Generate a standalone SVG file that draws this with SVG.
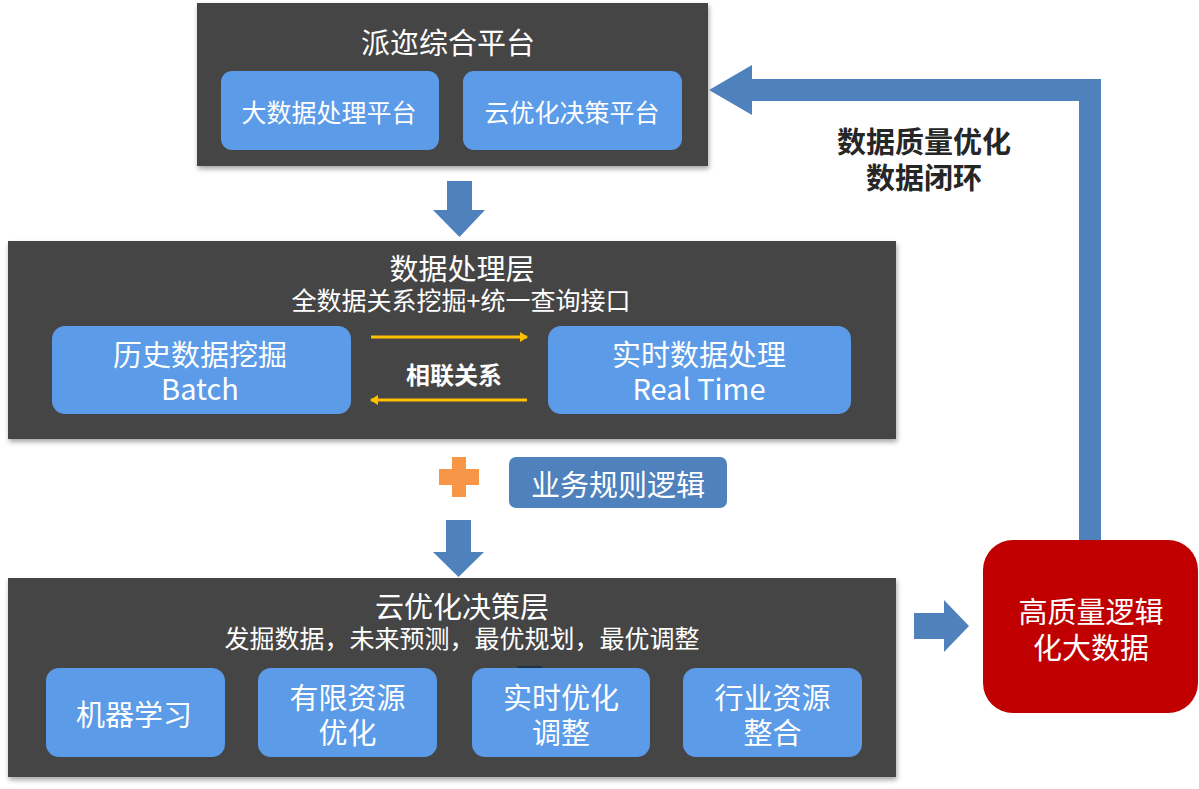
<svg xmlns="http://www.w3.org/2000/svg" width="1199" height="789" viewBox="0 0 1199 789">
<defs>
<filter id="sh" x="-5%" y="-5%" width="110%" height="115%">
<feDropShadow dx="1" dy="3" stdDeviation="2.5" flood-color="#000" flood-opacity="0.35"/>
</filter>
<marker id="ya" markerWidth="8" markerHeight="10" refX="7" refY="5" orient="auto" markerUnits="userSpaceOnUse">
<path d="M0,0 L8,5 L0,10 Z" fill="#FFC000"/>
</marker>
</defs>
<style>
.panel{fill:#444444;filter:url(#sh)}
.box{fill:#5B9BE8}
.t{font-family:"Microsoft YaHei","Noto Sans CJK SC",sans-serif;fill:#fff;text-anchor:middle;dominant-baseline:central}
.big{font-size:29px}
.sub{font-size:25px}
.arrow{fill:#4F81BD}
.bold{font-weight:bold}
</style>
<rect width="1199" height="789" fill="#fff"/>

<g id="top-platform">
<rect class="panel" x="197" y="3" width="511" height="163"/>
<text class="t big" x="448" y="41">派迩综合平台</text>
<g id="big-data-platform">
<rect class="box" x="221" y="71" width="218" height="79" rx="11"/>
<text class="t sub" x="329" y="111">大数据处理平台</text>
</g>
<g id="cloud-platform">
<rect class="box" x="463" y="71" width="219" height="79" rx="11"/>
<text class="t sub" x="572" y="111">云优化决策平台</text>
</g>
</g>

<g id="data-layer">
<rect class="panel" x="8" y="241" width="888" height="198"/>
<text class="t big" x="462" y="267">数据处理层</text>
<text class="t sub" x="461" y="299">全数据关系挖掘+统一查询接口</text>
<g id="batch">
<rect class="box" x="52" y="326" width="299" height="88" rx="13"/>
<text class="t big" x="200" y="353">历史数据挖掘</text>
<text class="t big" x="200" y="387">Batch</text>
</g>
<g id="realtime">
<rect class="box" x="548" y="326" width="303" height="88" rx="13"/>
<text class="t big" x="699" y="353">实时数据处理</text>
<text class="t big" x="699" y="387">Real Time</text>
</g>
<text class="t bold" x="454" y="373" font-size="24">相联关系</text>
</g>

<g id="plus">
<path d="M452,457 H466 V469 H479 V485 H466 V497 H452 V485 H439 V469 H452 Z" fill="#F79646"/>
</g>
<g id="business-rules">
<rect x="509" y="457" width="218" height="51" rx="7" fill="#4F81BD"/>
<text class="t big" x="618" y="483">业务规则逻辑</text>
</g>

<g id="decision-layer">
<rect class="panel" x="8" y="578" width="888" height="199"/>
<text class="t big" x="462" y="605">云优化决策层</text>
<text class="t sub" x="462" y="637">发掘数据，未来预测，最优规划，最优调整</text>
<rect x="517" y="666" width="25" height="5" fill="#203344"/>
<g id="ml">
<rect class="box" x="46" y="668" width="179" height="89" rx="13"/>
<text class="t big" x="134" y="713">机器学习</text>
</g>
<g id="limited-resources">
<rect class="box" x="258" y="668" width="179" height="89" rx="13"/>
<text class="t big" x="347.5" y="696">有限资源</text>
<text class="t big" x="347.5" y="731">优化</text>
</g>
<g id="realtime-opt">
<rect class="box" x="472" y="668" width="178" height="89" rx="13"/>
<text class="t big" x="561" y="696">实时优化</text>
<text class="t big" x="561" y="731">调整</text>
</g>
<g id="industry">
<rect class="box" x="683" y="668" width="179" height="89" rx="13"/>
<text class="t big" x="772.5" y="696">行业资源</text>
<text class="t big" x="772.5" y="731">整合</text>
</g>
</g>

<g id="high-quality">
<rect x="983" y="540" width="215" height="173" rx="30" fill="#C00000"/>
<text class="t big" x="1091" y="610">高质量逻辑</text>
<text class="t big" x="1091" y="646">化大数据</text>
</g>

<g id="loop-label">
<text class="t bold" x="924" y="140" font-size="29" style="fill:#262626">数据质量优化</text>
<text class="t bold" x="924" y="176" font-size="29" style="fill:#262626">数据闭环</text>
</g>

<g id="connectors">
<path class="arrow" d="M447,181 H472 V210 H485 L459.5,237 L433,210 H447 Z"/>
<path class="arrow" d="M446,520 H471 V552 H484 L458.5,577 L433,552 H446 Z"/>
<path class="arrow" d="M914,613 H944 V600 L969,626 L944,652 V639 H914 Z"/>
<path class="arrow" d="M1079,540 V101 H752 V115 L709,90 L752,65 V79 H1101 V540 Z"/>
<line x1="371" y1="337" x2="527" y2="337" stroke="#FFC000" stroke-width="3" marker-end="url(#ya)"/>
<line x1="527" y1="400" x2="371" y2="400" stroke="#FFC000" stroke-width="3" marker-end="url(#ya)"/>
</g>
</svg>
